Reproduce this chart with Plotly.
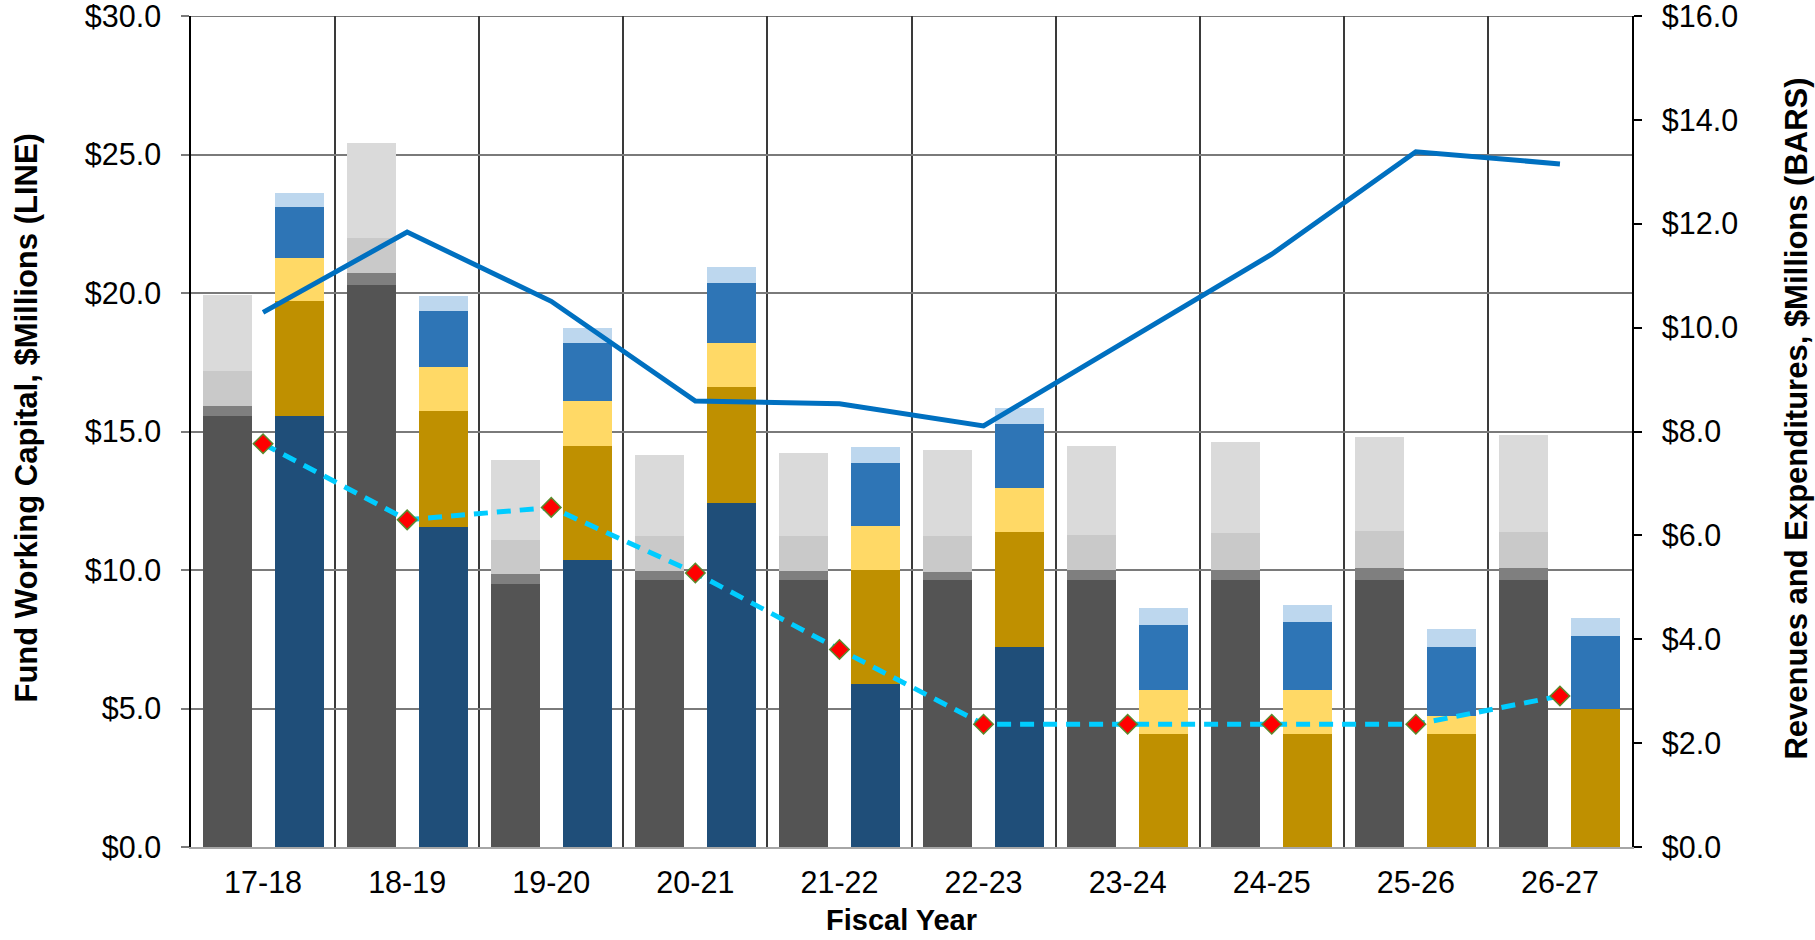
import plotly.graph_objects as go

years = ["17-18", "18-19", "19-20", "20-21", "21-22",
         "22-23", "23-24", "24-25", "25-26", "26-27"]

# Revenues, $M (stacked bottom to top)
rev_core = [8.30, 10.82, 5.06, 5.15, 5.15, 5.15, 5.15, 5.15, 5.15, 5.15]
rev_interest = [0.19, 0.23, 0.19, 0.16, 0.16, 0.14, 0.18, 0.19, 0.23, 0.23]
rev_fees = [0.67, 0.67, 0.67, 0.67, 0.67, 0.69, 0.67, 0.70, 0.70, 0.68]
rev_other = [1.46, 1.84, 1.54, 1.57, 1.61, 1.67, 1.72, 1.76, 1.82, 1.88]

# Expenditures, $M (stacked bottom to top)
exp_capital = [8.29, 6.17, 5.52, 6.63, 3.13, 3.86, 0.0, 0.0, 0.0, 0.0]
exp_operations = [2.22, 2.22, 2.20, 2.22, 2.21, 2.21, 2.17, 2.17, 2.17, 2.66]
exp_maintenance = [0.84, 0.86, 0.86, 0.85, 0.85, 0.84, 0.85, 0.85, 0.36, 0.0]
exp_personnel = [0.98, 1.07, 1.12, 1.15, 1.21, 1.23, 1.26, 1.31, 1.32, 1.40]
exp_admin = [0.27, 0.28, 0.29, 0.31, 0.31, 0.31, 0.33, 0.32, 0.34, 0.34]

# Fund working capital and reserve target, $M
working_capital = [19.3, 22.2, 19.7, 16.1, 16.0, 15.2, 18.3, 21.4, 25.1, 24.66]
reserve_target = [14.56, 11.81, 12.26, 9.89, 7.13, 4.43, 4.43, 4.43, 4.43, 5.45]

# Axis ticks
left_ticks = [0, 5, 10, 15, 20, 25, 30]
right_ticks = [0, 2, 4, 6, 8, 10, 12, 14, 16]

FONT = "Liberation Sans, Arial, sans-serif"
pos = list(range(len(years)))
rev_x = [p - 0.25 for p in pos]
exp_x = [p + 0.25 for p in pos]
BAR_W = 0.34

fig = go.Figure()

rev_series = [
    ("Core revenue", rev_core, "#545454"),
    ("Interest", rev_interest, "#7f7f7f"),
    ("Fees", rev_fees, "#c9c9c9"),
    ("Other revenue", rev_other, "#dadada"),
]
for name, vals, col in rev_series:
    fig.add_trace(go.Bar(x=rev_x, y=vals, name=name, width=BAR_W,
                         marker=dict(color=col, line=dict(width=0)),
                         yaxis="y"))

exp_series = [
    ("Capital", exp_capital, "#1f4e79"),
    ("Operations", exp_operations, "#bf9000"),
    ("Maintenance", exp_maintenance, "#ffd966"),
    ("Personnel", exp_personnel, "#2e75b6"),
    ("Administration", exp_admin, "#bdd7ee"),
]
for name, vals, col in exp_series:
    fig.add_trace(go.Bar(x=exp_x, y=vals, name=name, width=BAR_W,
                         marker=dict(color=col, line=dict(width=0)),
                         yaxis="y"))

fig.add_trace(go.Scatter(x=pos, y=working_capital, name="Fund Working Capital",
                         mode="lines", line=dict(color="#0070c0", width=5),
                         yaxis="y2"))
fig.add_trace(go.Scatter(x=pos, y=reserve_target, name="Reserve Target",
                         mode="lines+markers",
                         line=dict(color="#00ccff", width=5, dash="14px,9px"),
                         marker=dict(symbol="diamond", size=15, color="#ff0000",
                                     line=dict(color="#5b8a2e", width=1.5)),
                         yaxis="y2"))

tick_font = dict(family=FONT, size=30.5, color="#000000")

fig.update_layout(
    width=1815, height=940,
    margin=dict(l=191, r=183, t=16, b=93, autoexpand=False),
    paper_bgcolor="white", plot_bgcolor="white",
    barmode="relative", bargap=0,
    showlegend=False,
    font=dict(family=FONT, color="#000000"),
    xaxis=dict(
        range=[-0.5, 9.5], tickmode="array", tickvals=pos, ticktext=years,
        showgrid=False, zeroline=False, ticks="", tickfont=tick_font,
        showline=True, linecolor="#a6a6a6", linewidth=1.5,
        ticklabelstandoff=8, automargin=False,
        minor=dict(tickmode="linear", tick0=-0.5, dtick=1, showgrid=True,
                   gridcolor="#3a3a3a", gridwidth=1.5, ticks=""),
    ),
    yaxis=dict(
        range=[0, 16], side="right", tickmode="array",
        tickvals=right_ticks, ticktext=[f"${v:.1f}" for v in right_ticks],
        tickfont=tick_font, ticklabeloverflow="allow", automargin=False,
        showgrid=False, zeroline=False,
        showline=True, linecolor="#000000", linewidth=1.5,
        ticks="outside", ticklen=8, tickcolor="#000000", tickwidth=1.5,
        ticklabelstandoff=14,
    ),
    yaxis2=dict(
        range=[0, 30], side="left", overlaying="y", tickmode="array",
        tickvals=left_ticks, ticktext=[f"${v:.1f}" for v in left_ticks],
        tickfont=tick_font, ticklabeloverflow="allow", automargin=False,
        showgrid=True, gridcolor="#7a7a7a", gridwidth=2, zeroline=False,
        showline=True, linecolor="#000000", linewidth=1.5,
        ticks="outside", ticklen=8, tickcolor="#7a7a7a", tickwidth=2,
        ticklabelstandoff=14,
    ),
    shapes=[
        # top border gridline at the $30 level
        dict(type="line", xref="paper", yref="y2", x0=0, x1=1, y0=30, y1=30,
             line=dict(color="#7a7a7a", width=2), layer="below"),
    ],
    annotations=[
        dict(text="<b>Fund Working Capital, $Millions (LINE)</b>",
             xref="paper", yref="paper", x=-0.1138, y=0.5156,
             xanchor="center", yanchor="middle", textangle=-90,
             showarrow=False, font=dict(family=FONT, size=31, color="#000000")),
        dict(text="<b>Revenues and Expenditures, $Millions (BARS)</b>",
             xref="paper", yref="paper", x=1.1145, y=0.5156,
             xanchor="center", yanchor="middle", textangle=-90,
             showarrow=False, font=dict(family=FONT, size=31, color="#000000")),
        dict(text="<b>Fiscal Year</b>",
             xref="paper", yref="paper", x=0.4932, y=-0.0876,
             xanchor="center", yanchor="middle",
             showarrow=False, font=dict(family=FONT, size=29, color="#000000")),
    ],
)

fig.write_html("out.html")
